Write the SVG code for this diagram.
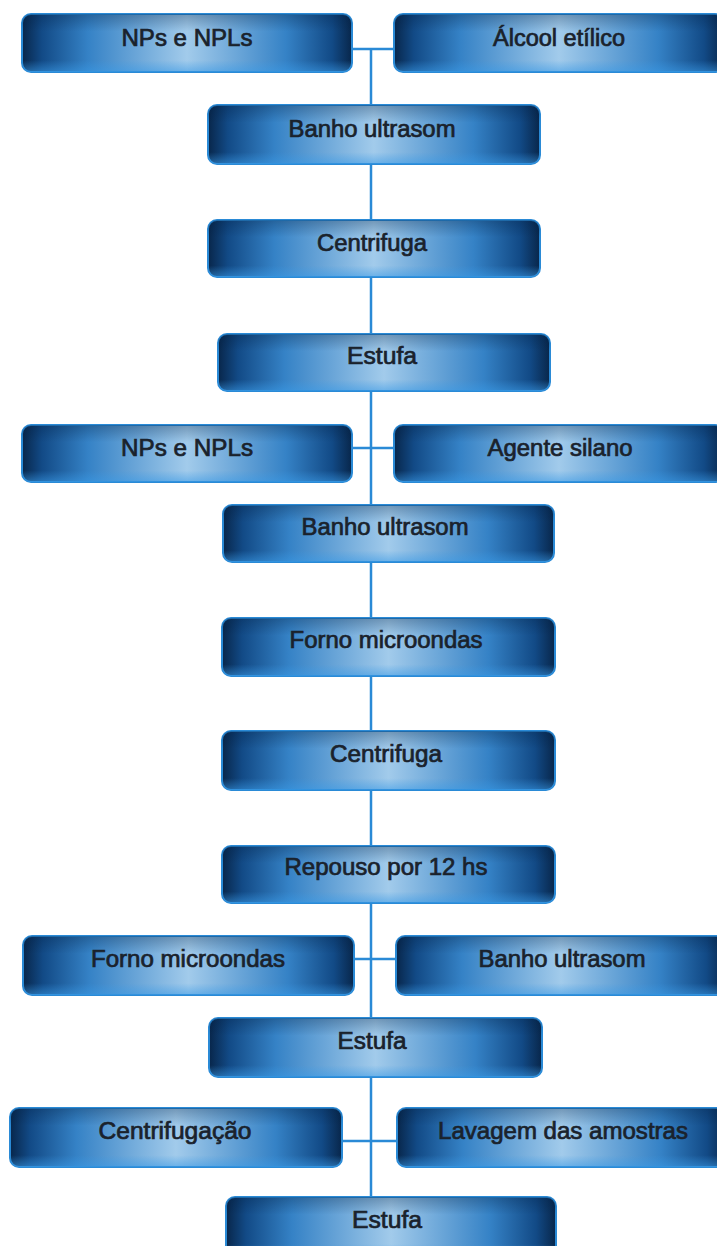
<svg xmlns="http://www.w3.org/2000/svg" width="717" height="1246" viewBox="0 0 717 1246">
<defs>
<linearGradient id="hg" x1="0" y1="0" x2="1" y2="0">
<stop offset="0" stop-color="#08264a"/>
<stop offset="0.06" stop-color="#124a86"/>
<stop offset="0.2" stop-color="#3582c6"/>
<stop offset="0.5" stop-color="#a2cbeb"/>
<stop offset="0.8" stop-color="#3582c6"/>
<stop offset="0.94" stop-color="#124a86"/>
<stop offset="1" stop-color="#08264a"/>
</linearGradient>
<linearGradient id="vg" x1="0" y1="0" x2="0" y2="1">
<stop offset="0" stop-color="#001a3a" stop-opacity="0.3"/>
<stop offset="0.3" stop-color="#001a3a" stop-opacity="0"/>
<stop offset="0.8" stop-color="#3a9ae6" stop-opacity="0"/>
<stop offset="1" stop-color="#3a9ae6" stop-opacity="0.55"/>
</linearGradient>
</defs>
<style>
.box{fill:url(#hg);stroke:#2a8ad6;stroke-width:2}
.shade{fill:url(#vg);stroke:none}
.lbl{font-family:"Liberation Sans",Arial,sans-serif;font-size:23px;font-weight:normal;fill:#1a222c;stroke:#1a222c;stroke-width:0.7;text-anchor:middle}
.con{stroke:#2a8ad6;stroke-width:2.5;fill:none}
</style>
<rect width="717" height="1246" fill="#ffffff"/>
<g id="connectors">
<path class="con" d="M352 49H394M371 49V105M371 164V220M371 277V334M371 391V505M352 448H394M371 562V618M371 676V731M371 790V846M371 903V1018M354 959H396M371 1077V1197M342 1141H397"/>
</g>
<g id="n1"><rect class="box" x="22" y="14" width="330" height="58" rx="9"/><rect class="shade" x="22" y="14" width="330" height="58" rx="9"/><text class="lbl" x="187" y="46" textLength="131" lengthAdjust="spacingAndGlyphs">NPs e NPLs</text></g>
<g id="n2"><rect class="box" x="394" y="14" width="330" height="58" rx="9"/><rect class="shade" x="394" y="14" width="330" height="58" rx="9"/><text class="lbl" x="559" y="46" textLength="132" lengthAdjust="spacingAndGlyphs">Álcool etílico</text></g>
<g id="n3"><rect class="box" x="208" y="105" width="332" height="59" rx="9"/><rect class="shade" x="208" y="105" width="332" height="59" rx="9"/><text class="lbl" x="372" y="137" textLength="167" lengthAdjust="spacingAndGlyphs">Banho ultrasom</text></g>
<g id="n4"><rect class="box" x="208" y="220" width="332" height="57" rx="9"/><rect class="shade" x="208" y="220" width="332" height="57" rx="9"/><text class="lbl" x="372" y="251" textLength="110" lengthAdjust="spacingAndGlyphs">Centrifuga</text></g>
<g id="n5"><rect class="box" x="218" y="334" width="332" height="57" rx="9"/><rect class="shade" x="218" y="334" width="332" height="57" rx="9"/><text class="lbl" x="382" y="364" textLength="70" lengthAdjust="spacingAndGlyphs">Estufa</text></g>
<g id="n6"><rect class="box" x="22" y="425" width="330" height="57" rx="9"/><rect class="shade" x="22" y="425" width="330" height="57" rx="9"/><text class="lbl" x="187" y="456" textLength="132" lengthAdjust="spacingAndGlyphs">NPs e NPLs</text></g>
<g id="n7"><rect class="box" x="394" y="425" width="330" height="57" rx="9"/><rect class="shade" x="394" y="425" width="330" height="57" rx="9"/><text class="lbl" x="560" y="456" textLength="145" lengthAdjust="spacingAndGlyphs">Agente silano</text></g>
<g id="n8"><rect class="box" x="223" y="505" width="331" height="57" rx="9"/><rect class="shade" x="223" y="505" width="331" height="57" rx="9"/><text class="lbl" x="385" y="535" textLength="167" lengthAdjust="spacingAndGlyphs">Banho ultrasom</text></g>
<g id="n9"><rect class="box" x="222" y="618" width="333" height="58" rx="9"/><rect class="shade" x="222" y="618" width="333" height="58" rx="9"/><text class="lbl" x="386" y="648" textLength="193" lengthAdjust="spacingAndGlyphs">Forno microondas</text></g>
<g id="n10"><rect class="box" x="222" y="731" width="333" height="59" rx="9"/><rect class="shade" x="222" y="731" width="333" height="59" rx="9"/><text class="lbl" x="386" y="762" textLength="112" lengthAdjust="spacingAndGlyphs">Centrifuga</text></g>
<g id="n11"><rect class="box" x="222" y="846" width="333" height="57" rx="9"/><rect class="shade" x="222" y="846" width="333" height="57" rx="9"/><text class="lbl" x="386" y="875" textLength="203" lengthAdjust="spacingAndGlyphs">Repouso por 12 hs</text></g>
<g id="n12"><rect class="box" x="23" y="936" width="331" height="59" rx="9"/><rect class="shade" x="23" y="936" width="331" height="59" rx="9"/><text class="lbl" x="188" y="967" textLength="194" lengthAdjust="spacingAndGlyphs">Forno microondas</text></g>
<g id="n13"><rect class="box" x="396" y="936" width="330" height="59" rx="9"/><rect class="shade" x="396" y="936" width="330" height="59" rx="9"/><text class="lbl" x="562" y="967" textLength="167" lengthAdjust="spacingAndGlyphs">Banho ultrasom</text></g>
<g id="n14"><rect class="box" x="209" y="1018" width="333" height="59" rx="9"/><rect class="shade" x="209" y="1018" width="333" height="59" rx="9"/><text class="lbl" x="372" y="1049" textLength="69" lengthAdjust="spacingAndGlyphs">Estufa</text></g>
<g id="n15"><rect class="box" x="10" y="1108" width="332" height="59" rx="9"/><rect class="shade" x="10" y="1108" width="332" height="59" rx="9"/><text class="lbl" x="175" y="1139" textLength="153" lengthAdjust="spacingAndGlyphs">Centrifugação</text></g>
<g id="n16"><rect class="box" x="397" y="1108" width="330" height="59" rx="9"/><rect class="shade" x="397" y="1108" width="330" height="59" rx="9"/><text class="lbl" x="563" y="1139" textLength="250" lengthAdjust="spacingAndGlyphs">Lavagem das amostras</text></g>
<g id="n17"><rect class="box" x="226" y="1197" width="330" height="59" rx="9"/><rect class="shade" x="226" y="1197" width="330" height="59" rx="9"/><text class="lbl" x="387" y="1228" textLength="70" lengthAdjust="spacingAndGlyphs">Estufa</text></g>
</svg>
